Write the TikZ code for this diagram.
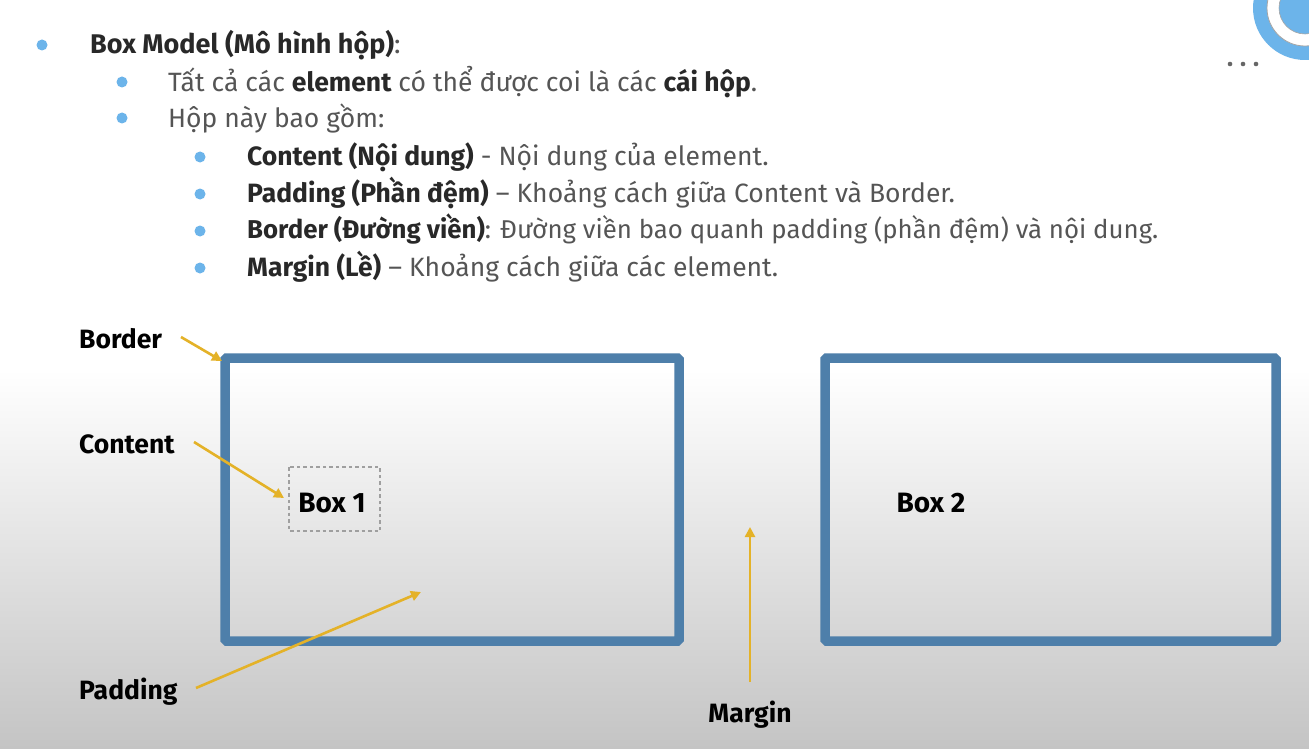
\documentclass[tikz,border=0pt]{standalone}
\usepackage{fontspec}
\setmainfont{Fira Sans}
\usetikzlibrary{arrows.meta}
\definecolor{boxblue}{RGB}{78,127,170}
\definecolor{arrowgold}{RGB}{228,178,40}
\definecolor{bulletblue}{RGB}{108,180,234}
\definecolor{txtdark}{RGB}{40,40,40}
\definecolor{txtgray}{RGB}{85,85,85}
\definecolor{bggray}{RGB}{196,196,196}
\begin{document}
\begin{tikzpicture}[x=1pt,y=-1pt,
  bulletdot/.style={circle,fill=bulletblue,inner sep=0pt,minimum size=11pt},
  itemtext/.style={anchor=base west,inner sep=0pt,font=\fontsize{26.5}{30}\selectfont,text=txtgray},
  lbl/.style={anchor=base west,inner sep=0pt,font=\fontsize{26.5}{30}\selectfont\bfseries,text=black},
  cssbox/.style={draw=boxblue,line width=9.5pt,rounded corners=1.5pt},
  goldarrow/.style={draw=arrowgold,line width=2.6pt,-{Triangle[length=10pt,width=10pt]}}
]
\useasboundingbox (0,0) rectangle (1309,749);
% background
\fill[white] (0,0) rectangle (1309,370);
\shade[top color=white,bottom color=bggray] (0,369) rectangle (1309,749);
% top-right decoration
\fill[bulletblue] (1305,8) circle[radius=52];
\fill[white] (1305,8) circle[radius=38];
\draw[gray!70,line width=0.8pt] (1305,8) circle[radius=38];
\fill[bulletblue] (1305,8) circle[radius=26];
\draw[gray!70,line width=0.6pt] (1305,8) circle[radius=26];
\foreach \dx in {1230,1243,1256} \fill[gray!80!black] (\dx,64) circle[radius=2.3];
% bullets
\node[bulletdot] (b0) at (42,45) {};
\node[bulletdot] (b1) at (122,82) {};
\node[bulletdot] (b2) at (122,118) {};
\node[bulletdot] (b3) at (200,157) {};
\node[bulletdot] (b4) at (200,194) {};
\node[bulletdot] (b5) at (200,231) {};
\node[bulletdot] (b6) at (200,268) {};
\node[itemtext,font=\fontsize{27}{30}\selectfont] (t0) at (90,54) {\textcolor{txtdark}{\bfseries Box Model (Mô hình hộp)}:};
\node[itemtext] (t1) at (168,92) {Tất cả các \textcolor{txtdark}{\bfseries element} có thể được coi là các \textcolor{txtdark}{\bfseries cái hộp}.};
\node[itemtext] (t2) at (168,128) {Hộp này bao gồm:};
\node[itemtext] (t3) at (247,165) {\textcolor{txtdark}{\bfseries Content (Nội dung)} - Nội dung của element.};
\node[itemtext] (t4) at (247,202) {\textcolor{txtdark}{\bfseries Padding (Phần đệm)} – Khoảng cách giữa Content và Border.};
\node[itemtext,font=\fontsize{25.8}{30}\selectfont] (t5) at (247,238) {\textcolor{txtdark}{\bfseries Border (Đường viền)}: Đường viền bao quanh padding (phần đệm) và nội dung.};
\node[itemtext] (t6) at (247,276) {\textcolor{txtdark}{\bfseries Margin (Lề)} – Khoảng cách giữa các element.};
% boxes
\draw[cssbox] (225,358) rectangle (679,641);
\draw[cssbox] (825,358) rectangle (1276,641);
\coordinate (box1corner) at (222,361);
\draw[gray!75,line width=1.3pt,dash pattern=on 3.5pt off 3pt] (289,467) rectangle (380,531);
% labels
\node[lbl] (lborder) at (79,348) {Border};
\node[lbl] (lcontent) at (79,453) {Content};
\node[lbl] (lpadding) at (79,699) {Padding};
\node[lbl,anchor=base] (lmargin) at (750,722) {Margin};
\node[lbl,anchor=base,font=\fontsize{28}{30}\selectfont\bfseries] (box1) at (332,512) {Box 1};
\node[lbl,anchor=base,font=\fontsize{28}{30}\selectfont\bfseries] (box2) at (931,512) {Box 2};
% arrows
\coordinate (aborder) at (181,337);
\coordinate (acontent) at (194,442);
\coordinate (ccontent) at (284,498);
\coordinate (apadding) at (196,688);
\coordinate (cpadding) at (421,592);
\coordinate (amargin) at (750,682);
\coordinate (cmargin) at (750,527);
\draw[goldarrow] (aborder) -- (box1corner);
\draw[goldarrow] (acontent) -- (ccontent);
\draw[goldarrow] (apadding) -- (cpadding);
\draw[goldarrow] (amargin) -- (cmargin);
\end{tikzpicture}
\end{document}
